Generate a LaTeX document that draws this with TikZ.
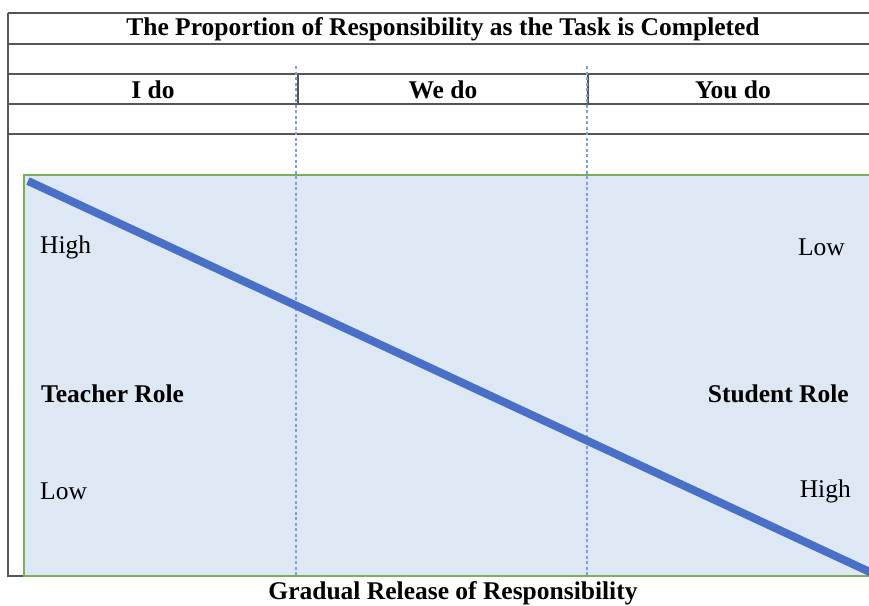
\documentclass[tikz,border=0pt]{standalone}
\usepackage{fontspec}
\setmainfont{Liberation Serif}
\definecolor{rulegray}{HTML}{555555}
\definecolor{boxgreen}{HTML}{7AB05A}
\definecolor{boxfill}{HTML}{DEE8F4}
\definecolor{roleblue}{HTML}{4A6FC6}
\definecolor{dashblue}{HTML}{7E9EDC}
\tikzset{
  rule/.style={rulegray,line width=1.6pt},
  lbl/.style={inner sep=0pt,font=\fontsize{25.5}{30}\selectfont},
  blbl/.style={lbl,font=\fontsize{25.5}{30}\selectfont\bfseries},
  phase/.style={dashblue,line width=1.1pt,dash pattern=on 3pt off 2.5pt}
}
\begin{document}
\begin{tikzpicture}[x=1pt,y=-1pt]
 \useasboundingbox (0,0) rectangle (869,605);
 % table rows
 \foreach \y in {13,44,74,104,134}
   \draw[rule] (8,\y) -- (869,\y);
 \draw[rule] (8,13) -- (8,576) -- (24,576);
 \draw[rule] (298,74) -- (298,104);
 \draw[rule] (588,74) -- (588,104);
 % shaded area
 \draw[boxgreen,line width=1.6pt,fill=boxfill] (24,175) rectangle (872,576);
 \draw[phase] (296,66) -- (296,575);
 \draw[phase] (587,66) -- (587,575);
 % role line
 \coordinate (start) at (28,181);
 \coordinate (stop) at (872,573);
 \draw[roleblue,line width=8pt] (start) -- (stop);
 % labels
 \node[blbl] (title) at (443,29) {The Proportion of Responsibility as the Task is Completed};
 \node[blbl] (ido) at (153,90) {I do};
 \node[blbl] (wedo) at (443,90) {We do};
 \node[blbl] (youdo) at (733,90) {You do};
 \node[lbl,anchor=west] (thigh) at (40,247) {High};
 \node[lbl,anchor=east] (slow) at (845,247) {Low};
 \node[blbl,anchor=west] (teacher) at (41,394) {Teacher Role};
 \node[blbl,anchor=east] (student) at (849,394) {Student Role};
 \node[lbl,anchor=west] (tlow) at (40,491) {Low};
 \node[lbl,anchor=east] (shigh) at (851,491) {High};
 \node[blbl] (release) at (453,593) {Gradual Release of Responsibility};
\end{tikzpicture}
\end{document}
